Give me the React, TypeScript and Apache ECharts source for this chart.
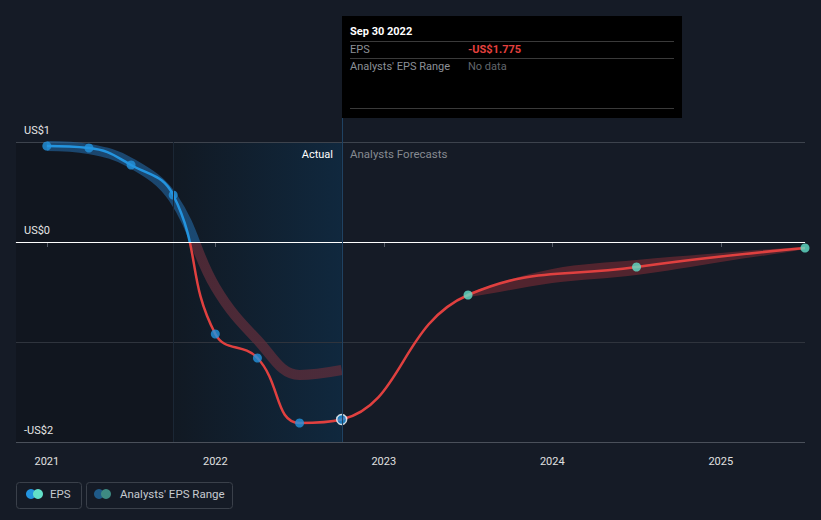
import React, { useEffect, useRef } from "react";
import * as echarts from "echarts";

const pastYears = [2021, 2021.25, 2021.5, 2021.75, 2022, 2022.25, 2022.5, 2022.75];
const pastEps = [0.96, 0.94, 0.77, 0.47, -0.92, -1.16, -1.81, -1.775];
const forecastYears = [2023.5, 2024.5, 2025.5];
const forecastEps = [-0.53, -0.25, -0.06];
const pastRange = [0.96, 0.93, 0.79, 0.44, -0.45, -0.98, -1.33, -1.28];
const rangeYears = [2023.5, 2024, 2024.5, 2025, 2025.5];
const rangeLow = [-0.55, -0.41, -0.33, -0.2, -0.07];
const rangeHigh = [-0.51, -0.27, -0.18, -0.11, -0.05];
const yLabels: Record<string, string> = { "-2": "-US$2", "-1": "", "0": "US$0", "1": "US$1" };

const X_MIN = 2020.817;
const X_MAX = 2025.5;
const ACTUAL_START = 2021.75;
const ACTUAL_END = 2022.75;
const FONT = "Roboto, 'Noto Sans', sans-serif";

export default function App() {
  const ref = useRef<HTMLDivElement>(null);
  useEffect(() => {
    if (!ref.current) return;
    const chart = echarts.init(ref.current, undefined, { renderer: "svg" });
    const epsData = [
      ...pastYears.map((x, i) => [x, pastEps[i]]),
      ...forecastYears.map((x, i) => [x, forecastEps[i]]),
    ];
    const option: any = {
      animation: false,
      backgroundColor: "#151b26",
      textStyle: { fontFamily: FONT },
      grid: { left: 16, right: 16, top: 142, bottom: 78, containLabel: false },
      xAxis: {
        type: "value",
        z: 2,
        min: X_MIN,
        max: X_MAX,
        splitNumber: 5,
        minInterval: 1,
        maxInterval: 1,
        splitLine: { show: false },
        axisLine: { show: true, lineStyle: { color: "#4a505a", width: 1 } },
        axisTick: { show: true, length: 5, lineStyle: { color: "#555b66" } },
        axisLabel: {
          showMinLabel: false,
          showMaxLabel: false,
          formatter: (v: number) => (Math.abs(v - Math.round(v)) < 1e-6 ? String(Math.round(v)) : ""),
          color: "#e0e0e0",
          fontSize: 11,
          margin: 14,
          fontFamily: FONT,
        },
      },
      yAxis: {
        type: "value",
        z: 2,
        min: -2,
        max: 1,
        interval: 1,
        axisLine: { show: false },
        axisTick: { show: false },
        splitLine: { show: true, lineStyle: { color: ["#4a505a", "#2f343d", "#2f343d", "#3d434d"], width: 1 } },
        axisLabel: {
          inside: true,
          margin: 8,
          verticalAlign: "bottom",
          padding: [0, 0, 6, 0],
          color: "#e6e6e6",
          fontSize: 11,
          fontFamily: FONT,
          formatter: (v: number) => yLabels[String(v)] ?? "",
        },
      },
      visualMap: [
        {
          type: "piecewise",
          show: false,
          dimension: 1,
          seriesIndex: 1,
          pieces: [
            { gt: 0, lte: 10, color: "rgba(35,110,175,0.55)" },
            { gt: -10, lte: 0, color: "rgba(95,45,58,0.75)" },
          ],
        },
        {
          type: "piecewise",
          show: false,
          dimension: 1,
          seriesIndex: 2,
          pieces: [
            { gt: 0, lte: 10, color: "#2394df" },
            { gt: -10, lte: 0, color: "#e0403f" },
          ],
        },
      ],
      series: [
        {
          name: "forecastRange",
          type: "custom",
          z: 1,
          clip: true,
          encode: { x: 0, y: [1, 2] },
          data: rangeYears.map((x, i) => [x, rangeLow[i], rangeHigh[i]]),
          renderItem: (params: any, api: any) => {
            if (params.dataIndex !== 0) return null;
            const upper = rangeYears.map((x, i) => api.coord([x, rangeHigh[i]]));
            const lower = rangeYears.map((x, i) => api.coord([x, rangeLow[i]])).reverse();
            return {
              type: "polygon",
              shape: { points: [...upper, ...lower], smooth: 0.35 },
              style: { fill: "rgba(200,55,62,0.34)" },
            };
          },
          markArea: {
            silent: true,
            data: [
              [{ xAxis: X_MIN, itemStyle: { color: "#11161f" } }, { xAxis: ACTUAL_START }],
              [
                {
                  xAxis: ACTUAL_START,
                  itemStyle: {
                    color: new echarts.graphic.LinearGradient(0, 0, 1, 0, [
                      { offset: 0, color: "#111923" },
                      { offset: 1, color: "#10283e" },
                    ]),
                  },
                },
                { xAxis: ACTUAL_END },
              ],
            ],
          },
        },
        {
          name: "pastRange",
          type: "line",
          z: 3,
          smooth: 0.4,
          symbol: "none",
          data: pastYears.map((x, i) => [x, pastRange[i]]),
          lineStyle: { width: 10 },
        },
        {
          name: "EPS",
          type: "line",
          z: 4,
          smooth: 0.45,
          symbol: "none",
          lineStyle: { width: 2.5 },
          data: epsData,
        },
        {
          name: "pastMarkers",
          type: "scatter",
          z: 5,
          symbolSize: 9,
          itemStyle: { color: "#2394df" },
          data: pastYears.slice(0, -1).map((x, i) => [x, pastEps[i]]),
        },
        {
          name: "lastActual",
          type: "scatter",
          z: 6,
          symbolSize: 10,
          itemStyle: { color: "#2394df", borderColor: "#ffffff", borderWidth: 1.5 },
          data: [[pastYears[pastYears.length - 1], pastEps[pastEps.length - 1]]],
        },
        {
          name: "forecastMarkers",
          type: "scatter",
          z: 5,
          symbolSize: 9,
          itemStyle: { color: "#62e0c9" },
          data: forecastYears.map((x, i) => [x, forecastEps[i]]),
        },
      ],
    };
    chart.setOption(option);

    const top = chart.convertToPixel({ xAxisIndex: 0, yAxisIndex: 0 }, [ACTUAL_END, 1]) as number[];
    const bottom = chart.convertToPixel({ xAxisIndex: 0, yAxisIndex: 0 }, [ACTUAL_END, -2]) as number[];
    const startPx = chart.convertToPixel({ xAxisIndex: 0, yAxisIndex: 0 }, [ACTUAL_START, 0]) as number[];
    const left = chart.convertToPixel({ xAxisIndex: 0, yAxisIndex: 0 }, [X_MIN, 0]) as number[];
    const right = chart.convertToPixel({ xAxisIndex: 0, yAxisIndex: 0 }, [X_MAX, 0]) as number[];
    const lx = Math.round(top[0]);
    const boxTop = 16;
    const boxH = 102;
    const boxW = 340;
    const tx = lx + 8;
    const vx = lx + 126;
    const sepW = boxW - 16;
    const gray = "#8c9097";
    const zeroY = Math.round(left[1]) + 0.5;
    const graphic: any[] = [
      {
        type: "line",
        silent: true,
        z: 9,
        shape: { x1: Math.round(startPx[0]) + 0.5, y1: top[1], x2: Math.round(startPx[0]) + 0.5, y2: bottom[1] },
        style: { stroke: "#1b2735", lineWidth: 1 },
      },
      {
        type: "line",
        silent: true,
        z: 9,
        shape: { x1: left[0], y1: zeroY, x2: right[0], y2: zeroY },
        style: { stroke: "#ffffff", lineWidth: 1 },
      },
      {
        type: "line",
        silent: true,
        z: 10,
        shape: { x1: lx + 0.5, y1: boxTop + boxH, x2: lx + 0.5, y2: bottom[1] },
        style: { stroke: "#1f4262", lineWidth: 1 },
      },
      {
        type: "rect",
        z: 20,
        shape: { x: lx, y: boxTop, width: boxW, height: boxH },
        style: { fill: "#000000" },
      },
      {
        type: "text",
        z: 21,
        x: tx,
        y: boxTop + 15,
        style: { text: "Sep 30 2022", fill: "#ffffff", font: `bold 11px ${FONT}`, verticalAlign: "middle" },
      },
      { type: "line", z: 21, shape: { x1: tx, y1: boxTop + 25.5, x2: tx + sepW, y2: boxTop + 25.5 }, style: { stroke: "#3a3a3a", lineWidth: 1 } },
      {
        type: "text",
        z: 21,
        x: tx,
        y: boxTop + 33,
        style: { text: "EPS", fill: gray, font: `11px ${FONT}`, verticalAlign: "middle" },
      },
      {
        type: "text",
        z: 21,
        x: vx,
        y: boxTop + 33,
        style: { text: "-US$1.775", fill: "#e5403e", font: `bold 11px ${FONT}`, verticalAlign: "middle" },
      },
      { type: "line", z: 21, shape: { x1: tx, y1: boxTop + 42.5, x2: tx + sepW, y2: boxTop + 42.5 }, style: { stroke: "#3a3a3a", lineWidth: 1 } },
      {
        type: "text",
        z: 21,
        x: tx,
        y: boxTop + 50,
        style: { text: "Analysts' EPS Range", fill: gray, font: `11px ${FONT}`, verticalAlign: "middle" },
      },
      {
        type: "text",
        z: 21,
        x: vx,
        y: boxTop + 50,
        style: { text: "No data", fill: "#62666c", font: `11px ${FONT}`, verticalAlign: "middle" },
      },
      { type: "line", z: 21, shape: { x1: tx, y1: boxTop + 92.5, x2: tx + sepW, y2: boxTop + 92.5 }, style: { stroke: "#3a3a3a", lineWidth: 1 } },
      {
        type: "text",
        z: 10,
        x: lx - 9,
        y: top[1] + 12,
        style: { text: "Actual", fill: "#ffffff", font: `11px ${FONT}`, align: "right", verticalAlign: "middle" },
      },
      {
        type: "text",
        z: 10,
        x: lx + 8,
        y: top[1] + 12,
        style: { text: "Analysts Forecasts", fill: "#868a91", font: `11.5px ${FONT}`, align: "left", verticalAlign: "middle" },
      },
      {
        type: "rect",
        z: 10,
        shape: { x: 16.5, y: 482.5, width: 65, height: 26, r: 3 },
        style: { fill: "none", stroke: "#3a404a", lineWidth: 1 },
      },
      { type: "circle", z: 11, shape: { cx: 31, cy: 494, r: 5 }, style: { fill: "#2394df" } },
      { type: "circle", z: 12, shape: { cx: 38, cy: 494, r: 5 }, style: { fill: "#62e0c9" } },
      {
        type: "text",
        z: 11,
        x: 50,
        y: 494,
        style: { text: "EPS", fill: "#c6cad0", font: `11.5px ${FONT}`, verticalAlign: "middle" },
      },
      {
        type: "rect",
        z: 10,
        shape: { x: 86.5, y: 482.5, width: 146, height: 26, r: 3 },
        style: { fill: "none", stroke: "#3a404a", lineWidth: 1 },
      },
      { type: "circle", z: 11, shape: { cx: 99, cy: 494, r: 5 }, style: { fill: "#1f5a88" } },
      { type: "circle", z: 12, shape: { cx: 106, cy: 494, r: 5 }, style: { fill: "#3e8a82" } },
      {
        type: "text",
        z: 11,
        x: 120,
        y: 494,
        style: { text: "Analysts' EPS Range", fill: "#c6cad0", font: `11.5px ${FONT}`, verticalAlign: "middle" },
      },
    ];
    chart.setOption({ graphic });
    return () => chart.dispose();
  }, []);
  return (
    <div
      ref={ref}
      style={{ position: "fixed", left: 0, top: 0, width: 821, height: 520, background: "#151b26" }}
    />
  );
}
